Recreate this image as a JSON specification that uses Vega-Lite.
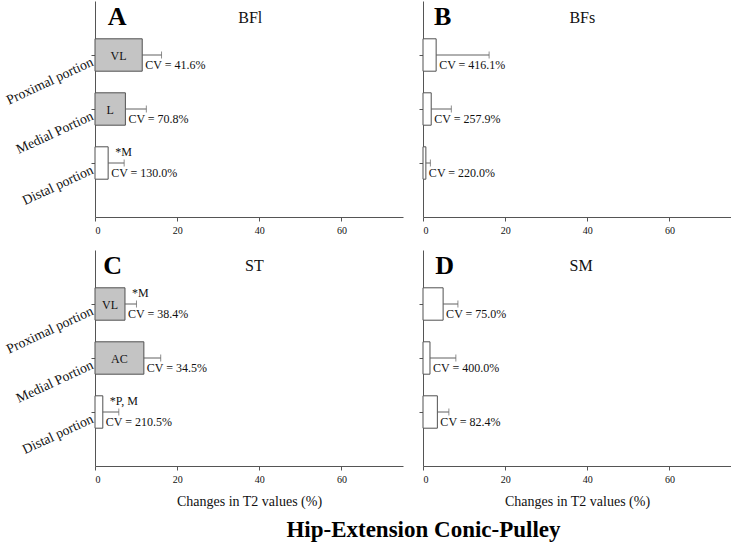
{
  "$schema": "https://vega.github.io/schema/vega-lite/v6.json",
  "padding": {"left": 3, "top": 1, "right": 0, "bottom": 0},
  "background": "white",
  "config": {
    "view": {"stroke": null},
    "font": "Liberation Serif",
    "text": {"font": "Liberation Serif"},
    "mark": {"font": "Liberation Serif"},
    "axis": {"grid": false, "domainColor": "#555555", "tickColor": "#555555", "tickSize": 4, "labelColor": "#111111", "labelFont": "Liberation Serif", "titleFont": "Liberation Serif", "titleFontWeight": "normal", "titleColor": "#111111"},
    "concat": {"spacing": 15}
  },
  "datasets": {
    "bars": [
      {"panel": "A", "portion": "Proximal portion", "mean": 11.5, "upper": 16.2, "inbar": "VL", "cv": "CV = 41.6%", "note": ""},
      {"panel": "A", "portion": "Medial Portion", "mean": 7.4, "upper": 12.5, "inbar": "L", "cv": "CV = 70.8%", "note": ""},
      {"panel": "A", "portion": "Distal portion", "mean": 3.2, "upper": 7.1, "inbar": "", "cv": "CV = 130.0%", "note": "*M"},
      {"panel": "B", "portion": "Proximal portion", "mean": 3.2, "upper": 16.1, "inbar": "", "cv": "CV = 416.1%", "note": ""},
      {"panel": "B", "portion": "Medial Portion", "mean": 2.0, "upper": 6.9, "inbar": "", "cv": "CV = 257.9%", "note": ""},
      {"panel": "B", "portion": "Distal portion", "mean": 0.7, "upper": 1.8, "inbar": "", "cv": "CV = 220.0%", "note": ""},
      {"panel": "C", "portion": "Proximal portion", "mean": 7.3, "upper": 10.1, "inbar": "VL", "cv": "CV = 38.4%", "note": "*M"},
      {"panel": "C", "portion": "Medial Portion", "mean": 11.9, "upper": 16.0, "inbar": "AC", "cv": "CV = 34.5%", "note": ""},
      {"panel": "C", "portion": "Distal portion", "mean": 1.9, "upper": 5.8, "inbar": "", "cv": "CV = 210.5%", "note": "*P, M"},
      {"panel": "D", "portion": "Proximal portion", "mean": 4.9, "upper": 8.5, "inbar": "", "cv": "CV = 75.0%", "note": ""},
      {"panel": "D", "portion": "Medial Portion", "mean": 1.7, "upper": 8.0, "inbar": "", "cv": "CV = 400.0%", "note": ""},
      {"panel": "D", "portion": "Distal portion", "mean": 3.5, "upper": 6.3, "inbar": "", "cv": "CV = 82.4%", "note": ""}
    ],
    "panels": [
      {"panel": "A", "muscle": "BFl"},
      {"panel": "B", "muscle": "BFs"},
      {"panel": "C", "muscle": "ST"},
      {"panel": "D", "muscle": "SM"}
    ]
  },
  "title": {"text": "Hip-Extension Conic-Pulley", "orient": "bottom", "anchor": "middle", "font": "Liberation Serif", "fontSize": 23, "fontWeight": "bold", "color": "#000000", "offset": 11, "dx": 56},
  "vconcat": [
    {"hconcat": [
      {"width": 308, "height": 216,
       "layer": [
        {"data": {"name": "bars"}, "transform": [{"filter": "datum.panel == 'A'"}, {"calculate": "datum.mean / 2", "as": "mid"}],
         "layer": [
          {"mark": {"type": "bar", "stroke": "#505050", "strokeWidth": 1},
           "encoding": {
             "y": {"field": "portion", "type": "nominal", "scale": {"domain": ["Proximal portion", "Medial Portion", "Distal portion"], "paddingInner": 0.4, "paddingOuter": 0.7}, "axis": {"title": null, "labelAngle": -25, "labelAlign": "right", "labelBaseline": "top", "labelFontSize": 13.8, "labelPadding": 2}},
             "x": {"field": "mean", "type": "quantitative", "scale": {"domain": [0, 75], "nice": false}, "axis": {"values": [0, 20, 40, 60], "title": null, "labelFontSize": 10, "labelPadding": 4}},
             "fill": {"condition": {"test": "datum.inbar != ''", "value": "#c4c4c4"}, "value": "#ffffff"}}},
          {"mark": {"type": "rule", "color": "#606060", "strokeWidth": 1}, "encoding": {"y": {"field": "portion", "type": "nominal"}, "x": {"field": "mean", "type": "quantitative"}, "x2": {"field": "upper"}}},
          {"mark": {"type": "tick", "color": "#606060", "thickness": 1, "size": 7}, "encoding": {"y": {"field": "portion", "type": "nominal"}, "x": {"field": "upper", "type": "quantitative"}}},
          {"mark": {"type": "text", "font": "Liberation Serif", "fontSize": 12, "align": "center", "baseline": "alphabetic", "dy": 4.5, "color": "#111111"}, "encoding": {"y": {"field": "portion", "type": "nominal"}, "x": {"field": "mid", "type": "quantitative"}, "text": {"field": "inbar"}}},
          {"mark": {"type": "text", "font": "Liberation Serif", "fontSize": 12, "align": "left", "baseline": "alphabetic", "dx": 3, "dy": 13.5, "color": "#111111"}, "encoding": {"y": {"field": "portion", "type": "nominal"}, "x": {"field": "mean", "type": "quantitative"}, "text": {"field": "cv"}}},
          {"mark": {"type": "text", "font": "Liberation Serif", "fontSize": 12, "align": "left", "baseline": "alphabetic", "dx": 7, "dy": -7.5, "color": "#111111"}, "encoding": {"y": {"field": "portion", "type": "nominal"}, "x": {"field": "mean", "type": "quantitative"}, "text": {"field": "note"}}}
         ]},
        {"data": {"name": "panels"}, "transform": [{"filter": "datum.panel == 'A'"}],
         "layer": [
          {"mark": {"type": "text", "font": "Liberation Serif", "fontSize": 26, "fontWeight": "bold", "align": "left", "baseline": "alphabetic", "dy": -30, "color": "#000000"}, "encoding": {"x": {"datum": 3.1}, "y": {"datum": "Proximal portion"}, "text": {"field": "panel"}}},
          {"mark": {"type": "text", "font": "Liberation Serif", "fontSize": 16, "align": "center", "baseline": "alphabetic", "dy": -32, "color": "#111111"}, "encoding": {"x": {"datum": 37.8}, "y": {"datum": "Proximal portion"}, "text": {"field": "muscle"}}}
         ]}
       ]},
      {"width": 308, "height": 216,
       "layer": [
        {"data": {"name": "bars"}, "transform": [{"filter": "datum.panel == 'B'"}],
         "layer": [
          {"mark": {"type": "bar", "stroke": "#505050", "strokeWidth": 1},
           "encoding": {
             "y": {"field": "portion", "type": "nominal", "scale": {"domain": ["Proximal portion", "Medial Portion", "Distal portion"], "paddingInner": 0.4, "paddingOuter": 0.7}, "axis": {"title": null, "labels": false}},
             "x": {"field": "mean", "type": "quantitative", "scale": {"domain": [0, 75], "nice": false}, "axis": {"values": [0, 20, 40, 60], "title": null, "labelFontSize": 10, "labelPadding": 4}},
             "fill": {"value": "#ffffff"}}},
          {"mark": {"type": "rule", "color": "#606060", "strokeWidth": 1}, "encoding": {"y": {"field": "portion", "type": "nominal"}, "x": {"field": "mean", "type": "quantitative"}, "x2": {"field": "upper"}}},
          {"mark": {"type": "tick", "color": "#606060", "thickness": 1, "size": 7}, "encoding": {"y": {"field": "portion", "type": "nominal"}, "x": {"field": "upper", "type": "quantitative"}}},
          {"mark": {"type": "text", "font": "Liberation Serif", "fontSize": 12, "align": "left", "baseline": "alphabetic", "dx": 3, "dy": 13.5, "color": "#111111"}, "encoding": {"y": {"field": "portion", "type": "nominal"}, "x": {"field": "mean", "type": "quantitative"}, "text": {"field": "cv"}}}
         ]},
        {"data": {"name": "panels"}, "transform": [{"filter": "datum.panel == 'B'"}],
         "layer": [
          {"mark": {"type": "text", "font": "Liberation Serif", "fontSize": 26, "fontWeight": "bold", "align": "left", "baseline": "alphabetic", "dy": -30, "color": "#000000"}, "encoding": {"x": {"datum": 2.7}, "y": {"datum": "Proximal portion"}, "text": {"field": "panel"}}},
          {"mark": {"type": "text", "font": "Liberation Serif", "fontSize": 16, "align": "center", "baseline": "alphabetic", "dy": -32, "color": "#111111"}, "encoding": {"x": {"datum": 38.8}, "y": {"datum": "Proximal portion"}, "text": {"field": "muscle"}}}
         ]}
       ]}
    ]},
    {"hconcat": [
      {"width": 308, "height": 216,
       "layer": [
        {"data": {"name": "bars"}, "transform": [{"filter": "datum.panel == 'C'"}, {"calculate": "datum.mean / 2", "as": "mid"}],
         "layer": [
          {"mark": {"type": "bar", "stroke": "#505050", "strokeWidth": 1},
           "encoding": {
             "y": {"field": "portion", "type": "nominal", "scale": {"domain": ["Proximal portion", "Medial Portion", "Distal portion"], "paddingInner": 0.4, "paddingOuter": 0.7}, "axis": {"title": null, "labelAngle": -25, "labelAlign": "right", "labelBaseline": "top", "labelFontSize": 13.8, "labelPadding": 2}},
             "x": {"field": "mean", "type": "quantitative", "scale": {"domain": [0, 75], "nice": false}, "axis": {"values": [0, 20, 40, 60], "title": "Changes in T2 values (%)", "titleFontSize": 14, "titlePadding": 10, "labelFontSize": 10, "labelPadding": 4}},
             "fill": {"condition": {"test": "datum.inbar != ''", "value": "#c4c4c4"}, "value": "#ffffff"}}},
          {"mark": {"type": "rule", "color": "#606060", "strokeWidth": 1}, "encoding": {"y": {"field": "portion", "type": "nominal"}, "x": {"field": "mean", "type": "quantitative"}, "x2": {"field": "upper"}}},
          {"mark": {"type": "tick", "color": "#606060", "thickness": 1, "size": 7}, "encoding": {"y": {"field": "portion", "type": "nominal"}, "x": {"field": "upper", "type": "quantitative"}}},
          {"mark": {"type": "text", "font": "Liberation Serif", "fontSize": 12, "align": "center", "baseline": "alphabetic", "dy": 4.5, "color": "#111111"}, "encoding": {"y": {"field": "portion", "type": "nominal"}, "x": {"field": "mid", "type": "quantitative"}, "text": {"field": "inbar"}}},
          {"mark": {"type": "text", "font": "Liberation Serif", "fontSize": 12, "align": "left", "baseline": "alphabetic", "dx": 3, "dy": 13.5, "color": "#111111"}, "encoding": {"y": {"field": "portion", "type": "nominal"}, "x": {"field": "mean", "type": "quantitative"}, "text": {"field": "cv"}}},
          {"mark": {"type": "text", "font": "Liberation Serif", "fontSize": 12, "align": "left", "baseline": "alphabetic", "dx": 7, "dy": -7.5, "color": "#111111"}, "encoding": {"y": {"field": "portion", "type": "nominal"}, "x": {"field": "mean", "type": "quantitative"}, "text": {"field": "note"}}}
         ]},
        {"data": {"name": "panels"}, "transform": [{"filter": "datum.panel == 'C'"}],
         "layer": [
          {"mark": {"type": "text", "font": "Liberation Serif", "fontSize": 26, "fontWeight": "bold", "align": "left", "baseline": "alphabetic", "dy": -30, "color": "#000000"}, "encoding": {"x": {"datum": 2.0}, "y": {"datum": "Proximal portion"}, "text": {"field": "panel"}}},
          {"mark": {"type": "text", "font": "Liberation Serif", "fontSize": 16, "align": "center", "baseline": "alphabetic", "dy": -33, "color": "#111111"}, "encoding": {"x": {"datum": 38.8}, "y": {"datum": "Proximal portion"}, "text": {"field": "muscle"}}}
         ]}
       ]},
      {"width": 308, "height": 216,
       "layer": [
        {"data": {"name": "bars"}, "transform": [{"filter": "datum.panel == 'D'"}],
         "layer": [
          {"mark": {"type": "bar", "stroke": "#505050", "strokeWidth": 1},
           "encoding": {
             "y": {"field": "portion", "type": "nominal", "scale": {"domain": ["Proximal portion", "Medial Portion", "Distal portion"], "paddingInner": 0.4, "paddingOuter": 0.7}, "axis": {"title": null, "labels": false}},
             "x": {"field": "mean", "type": "quantitative", "scale": {"domain": [0, 75], "nice": false}, "axis": {"values": [0, 20, 40, 60], "title": "Changes in T2 values (%)", "titleFontSize": 14, "titlePadding": 10, "labelFontSize": 10, "labelPadding": 4}},
             "fill": {"value": "#ffffff"}}},
          {"mark": {"type": "rule", "color": "#606060", "strokeWidth": 1}, "encoding": {"y": {"field": "portion", "type": "nominal"}, "x": {"field": "mean", "type": "quantitative"}, "x2": {"field": "upper"}}},
          {"mark": {"type": "tick", "color": "#606060", "thickness": 1, "size": 7}, "encoding": {"y": {"field": "portion", "type": "nominal"}, "x": {"field": "upper", "type": "quantitative"}}},
          {"mark": {"type": "text", "font": "Liberation Serif", "fontSize": 12, "align": "left", "baseline": "alphabetic", "dx": 3, "dy": 13.5, "color": "#111111"}, "encoding": {"y": {"field": "portion", "type": "nominal"}, "x": {"field": "mean", "type": "quantitative"}, "text": {"field": "cv"}}}
         ]},
        {"data": {"name": "panels"}, "transform": [{"filter": "datum.panel == 'D'"}],
         "layer": [
          {"mark": {"type": "text", "font": "Liberation Serif", "fontSize": 26, "fontWeight": "bold", "align": "left", "baseline": "alphabetic", "dy": -30, "color": "#000000"}, "encoding": {"x": {"datum": 3.0}, "y": {"datum": "Proximal portion"}, "text": {"field": "panel"}}},
          {"mark": {"type": "text", "font": "Liberation Serif", "fontSize": 16, "align": "center", "baseline": "alphabetic", "dy": -33, "color": "#111111"}, "encoding": {"x": {"datum": 38.5}, "y": {"datum": "Proximal portion"}, "text": {"field": "muscle"}}}
         ]}
       ]}
    ]}
  ],
  "spacing": 15
}
